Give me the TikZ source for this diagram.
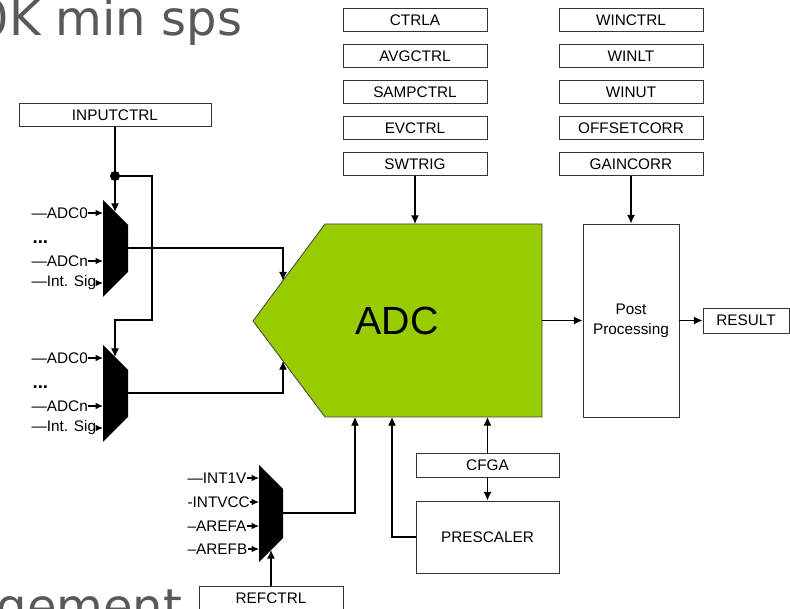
\documentclass[tikz, border = 0pt]{standalone}
\usepackage{fontspec}
\setmainfont{Liberation Sans}
\newfontfamily\slidefont{DejaVu Sans}
\usetikzlibrary{arrows.meta}
\usetikzlibrary{calc}

\definecolor{adcgreen}{HTML}{99CC00}
\definecolor{slidegray}{HTML}{595959}

\tikzset{
  reg/.style = {draw = black!80, line width = .7pt, minimum width = 108pt,
    minimum height = 17.25pt, inner sep = 0pt,
    font = \fontsize{11.5}{15}\selectfont},
  sig/.style = {inner sep = 0pt, font = \fontsize{11.5}{13}\selectfont},
  slide/.style = {inner sep = 0pt, text = slidegray,
    font = \slidefont\fontsize{36}{40}\selectfont},
  small/.style = {-{Latex[length = 5.5pt, width = 5pt]}}
}

\begin{document}
\begin{tikzpicture}[x = .75pt, y = -.75pt, line width = .9pt,
  > = {Latex[length = 6.5pt, width = 6pt]}]
  \useasboundingbox (0, 0) rectangle (790, 609);

  \node[slide, anchor = base west] (title) at (-22, 36) {0K min sps};
  \node[slide, anchor = base west] (footer) at (-4, 624) {gement};

  \foreach \name/\lab/\y in {ctrla/CTRLA/20, avgctrl/AVGCTRL/56,
    sampctrl/SAMPCTRL/92, evctrl/EVCTRL/128, swtrig/SWTRIG/164}
    \node[reg] (\name) at (415, \y) {\lab};
  \foreach \name/\lab/\y in {winctrl/WINCTRL/20, winlt/WINLT/56,
    winut/WINUT/92, offsetcorr/OFFSETCORR/128, gaincorr/GAINCORR/164}
    \node[reg] (\name) at (631, \y) {\lab};

  \node[reg, minimum width = 144pt] (inputctrl) at (115, 115) {INPUTCTRL};
  \node[reg, minimum height = 18pt] (refctrl) at (271, 598) {REFCTRL};
  \node[reg, minimum width = 107.25pt, minimum height = 18pt] (cfga)
    at (487.5, 465) {CFGA};
  \node[reg, minimum width = 107.25pt, minimum height = 54pt] (prescaler)
    at (487.5, 537) {PRESCALER};
  \node[reg, minimum width = 72pt, minimum height = 144.75pt,
    align = center] (post) at (631, 320.5) {Post\\Processing};
  \node[reg, minimum width = 64.5pt, minimum height = 18.75pt] (result)
    at (746, 320.5) {RESULT};

  \coordinate (A1) at (325, 224);
  \coordinate (A2) at (542, 224);
  \coordinate (A3) at (542, 417);
  \coordinate (A4) at (325, 417);
  \coordinate (tip) at (253, 321);
  \draw[fill = adcgreen, draw = black!75, line width = .6pt]
    (A1) -- (A2) -- (A3) -- (A4) -- (tip) -- cycle;
  \node[font = \fontsize{29.5}{30}\selectfont] (adc) at (397, 321) {ADC};

  \foreach \m/\y in {m1/200, m2/345} {
    \fill (103, \y) coordinate (\m-tl) -- ++(25, 25) -- ++(0, 47) --
      ++(-25, 25) -- cycle;
    \coordinate (\m-out) at (128, \y + 48);
    \coordinate (\m-sel) at (115, \y + 12);
    \node[sig, anchor = west] (\m-a) at (31, \y + 13) {—ADC0};
    \node[sig, anchor = base west, font = \fontsize{14}{14}\bfseries]
      (\m-dots) at (32, \y + 44) {...};
    \node[sig, anchor = west] (\m-b) at (31, \y + 61) {—ADCn};
    \node[sig, anchor = west] (\m-c) at (31, \y + 83) {—Int. Sig};
    \foreach \s in {a, b, c}
      \draw[small] (\m-\s) -- (\m-\s -| \m-tl);
  }

  \fill (259, 465) coordinate (r-tl) -- ++(24, 24) -- ++(0, 49) --
    ++(-24, 24) -- cycle;
  \coordinate (r-out) at (283, 513);
  \coordinate (r-sel) at (271, 550);
  \foreach \s/\lab/\y in {a/—INT1V/478, b/-INTVCC/502, c/–AREFA/526,
    d/–AREFB/549} {
    \node[sig, anchor = west] (r-\s) at (187, \y) {\lab};
    \draw[small] (r-\s) -- (r-\s -| r-tl);
  }

  \coordinate (jn) at (115, 176);
  \coordinate (jr) at (152, 320);
  \fill (jn) circle (3.75pt);
  \draw (inputctrl) -- (jn);
  \draw[->] (jn) -- (m1-sel);
  \draw[->] (jn) -| (jr) -| (m2-sel);

  \coordinate (inU) at ($(tip)!.4167!(A1)$);
  \coordinate (inL) at ($(tip)!.4167!(A4)$);
  \draw[->] (m1-out) -| (inU);
  \draw[->] (m2-out) -| (inL);

  \draw[->] (r-out) -| ($(A4) + (30, 0)$);
  \draw[->] (prescaler) -| ($(A4) + (67, 0)$);
  \draw[->] (cfga) -- (cfga |- A4);
  \draw[->] (cfga) -- (prescaler);
  \draw[->] (refctrl) -- (r-sel);
  \draw[->] (swtrig) -- (swtrig |- A1);
  \draw[->] (gaincorr) -- (post);
  \draw[->] (post.west -| A2) -- (post);
  \draw[->] (post) -- (result);
\end{tikzpicture}
\end{document}
